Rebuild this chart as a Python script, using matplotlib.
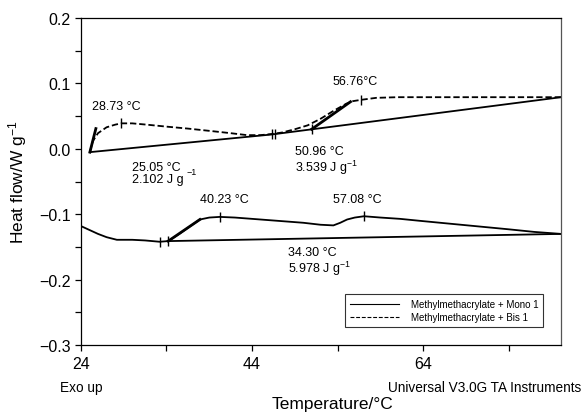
import numpy as np
import matplotlib
matplotlib.use("Agg")
import matplotlib.pyplot as plt
from matplotlib.ticker import MultipleLocator, FuncFormatter

plt.rcParams['font.family'] = ['Liberation Sans', 'DejaVu Sans']
plt.rcParams['mathtext.fontset'] = 'custom'
plt.rcParams['mathtext.rm'] = 'Liberation Sans'
plt.rcParams['mathtext.it'] = 'Liberation Sans:italic'
plt.rcParams['mathtext.default'] = 'regular'

# Methylmethacrylate + Bis 1 (dashed)
bis_x = [25.05, 25.4, 26.0, 27.0, 28.0, 28.73, 30.0, 31.7, 34.0, 36.5, 39.4, 41.5, 43.4, 45.0, 46.5,
         47.5, 49.0, 50.5, 52.0, 53.5, 55.0, 55.8, 56.76, 58.5, 61.0, 65.0, 70.0, 75.0, 80.1]
bis_y = [-0.005, 0.012, 0.024, 0.033, 0.037, 0.039, 0.039, 0.037, 0.034, 0.031, 0.027, 0.024, 0.021, 0.021, 0.023,
         0.025, 0.030, 0.036, 0.046, 0.058, 0.069, 0.073, 0.075, 0.078, 0.079, 0.079, 0.079, 0.079, 0.079]
bis_base_x = [25.05, 46.3, 80.1]
bis_base_y = [-0.005, 0.022, 0.079]
bis_tan1_x = [25.05, 25.75]
bis_tan1_y = [-0.005, 0.031]
bis_tan2_x = [50.96, 55.5]
bis_tan2_y = [0.030, 0.072]
bis_marks_curve = [28.73, 56.76]
bis_marks_base = [46.3, 46.7, 50.96]

# Methylmethacrylate + Mono 1 (solid)
mono_x = [24.0, 25.0, 26.0, 27.0, 28.2, 30.0, 31.5, 33.2, 34.2, 35.5, 36.8, 37.9, 39.0, 40.23, 42.0, 44.0,
          46.0, 48.0, 50.0, 52.0, 53.5, 54.3, 55.1, 56.0, 57.08, 59.0, 61.3, 63.6, 66.0, 70.0, 74.0, 77.0, 80.1]
mono_y = [-0.118, -0.124, -0.130, -0.135, -0.139, -0.139, -0.140, -0.142, -0.141, -0.130, -0.118, -0.108, -0.105,
          -0.104, -0.105, -0.107, -0.109, -0.111, -0.113, -0.116, -0.117, -0.113, -0.108, -0.105, -0.103, -0.105,
          -0.107, -0.110, -0.113, -0.118, -0.123, -0.127, -0.130]
mono_base_x = [34.2, 80.1]
mono_base_y = [-0.141, -0.130]
mono_tan_x = [34.2, 37.9]
mono_tan_y = [-0.141, -0.108]
mono_marks = [33.2, 34.2, 40.23, 57.08]

x_major = [24, 44, 64]
x_minor = [34, 54, 74]

fig = plt.figure(figsize=(5.82, 4.14), dpi=100)
ax = fig.add_axes([0.139, 0.164, 0.825, 0.790])

dash = (0, (3.5, 1.6))
ax.plot(mono_x, mono_y, color='black', lw=1.3, label='Methylmethacrylate + Mono 1')
ax.plot(bis_x, bis_y, color='black', lw=1.3, linestyle=dash, label='Methylmethacrylate + Bis 1')
ax.plot(mono_base_x, mono_base_y, color='black', lw=1.3)
ax.plot(bis_base_x, bis_base_y, color='black', lw=1.3)
ax.plot(mono_tan_x, mono_tan_y, color='black', lw=2.0)
ax.plot(bis_tan1_x, bis_tan1_y, color='black', lw=2.0)
ax.plot(bis_tan2_x, bis_tan2_y, color='black', lw=2.0)

ax.plot(bis_marks_curve, np.interp(bis_marks_curve, bis_x, bis_y), linestyle='', marker='|', ms=7, mew=1.0, color='black')
ax.plot(bis_marks_base, np.interp(bis_marks_base, bis_base_x, bis_base_y), linestyle='', marker='|', ms=7, mew=1.0, color='black')
ax.plot(mono_marks, np.interp(mono_marks, mono_x, mono_y), linestyle='', marker='|', ms=7, mew=1.0, color='black')

fs = 9
ax.text(25.3, 0.065, "28.73 °C", fontsize=fs, va='center')
ax.text(30.0, -0.037, "25.05 °C\n2.102 J g", fontsize=fs, va='center', linespacing=1.05)
ax.text(36.3, -0.035, "−1", fontsize=6.5, va='center')
ax.text(49.0, -0.018, "50.96 °C\n3.539 J g$^{-1}$", fontsize=fs, va='center', linespacing=1.05)
ax.text(53.4, 0.104, "56.76°C", fontsize=fs, va='center')
ax.text(37.9, -0.077, "40.23 °C", fontsize=fs, va='center')
ax.text(53.5, -0.077, "57.08 °C", fontsize=fs, va='center')
ax.text(48.2, -0.172, "34.30 °C\n5.978 J g$^{-1}$", fontsize=fs, va='center', linespacing=1.05)

ax.set_xlim(24, 80.1)
ax.set_ylim(-0.3, 0.2)
ax.set_xticks(x_major)
ax.set_xticks(x_minor, minor=True)
ax.yaxis.set_major_locator(MultipleLocator(0.1))
ax.yaxis.set_minor_locator(MultipleLocator(0.05))
ax.yaxis.set_major_formatter(FuncFormatter(lambda v, p: ("%.1f" % v).replace("-", "−")))
ax.tick_params(which='both', direction='out', length=4, width=0.9, labelsize=11.5, top=False, right=False)
for s in ax.spines.values():
    s.set_linewidth(0.9)
ax.spines['right'].set_color('#555555')

ax.set_xlabel("Temperature/°C", fontsize=12.5, va='center')
ax.xaxis.set_label_coords(0.523, -0.180)
ax.set_ylabel("Heat flow/W g$^{-1}$", fontsize=12.5, va='center')
ax.yaxis.set_label_coords(-0.131, 0.5)

fig.text(60 / 582, 1 - 388 / 414, "Exo up", fontsize=9.8, va='center', ha='left')
fig.text(0.998, 1 - 388 / 414, "Universal V3.0G TA Instruments", fontsize=9.8, va='center', ha='right')

leg = ax.legend(loc='lower right', bbox_to_anchor=(0.9625, 0.055), fontsize=7, frameon=True, fancybox=False,
                handlelength=5, handletextpad=1.2, borderpad=0.5, labelspacing=0.3, borderaxespad=0)
leg.get_frame().set_edgecolor('black')
leg.get_frame().set_linewidth(0.8)
for h in leg.get_lines():
    h.set_linewidth(0.8)

fig.savefig("out.png", dpi=100)
